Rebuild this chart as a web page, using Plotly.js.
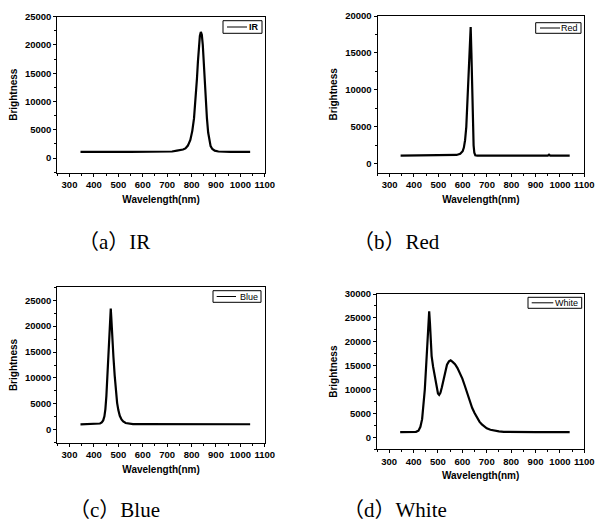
<!DOCTYPE html>
<html>
<head>
<meta charset="utf-8">
<script src="https://cdn.plot.ly/plotly-3.0.1.min.js"></script>
<style>html,body{margin:0;padding:0;background:#fff;}#chart{width:595px;height:528px;}</style>
</head>
<body>
<div id="chart"></div>
<script>
// ---- Data ----
const wlIR = [345,370,400,430,460,490,520,550,580,610,640,670,700,720,740,755,765,775,785,795,803,810,816,822,826,830,834,838,842,846,850,854,858,863,868,873,878,885,895,910,930,960,990,1020,1040];
const brIR = [1080,1100,1070,1090,1080,1070,1090,1080,1070,1090,1080,1090,1100,1150,1300,1400,1500,1700,2200,3200,4800,7000,10000,14000,17000,19800,21600,22300,21800,20000,16800,13000,10000,7000,4500,3000,2100,1600,1300,1150,1100,1090,1080,1090,1080];

const wlRed = [345,370,400,430,460,490,520,550,575,590,600,605,610,615,620,623,627,630,633,636,639,642,645,648,652,660,690,720,760,800,850,900,950,955,960,1000,1040];
const brRed = [1100,1110,1090,1100,1100,1090,1100,1110,1200,1350,1700,2200,3200,5000,8500,10200,13000,16000,18500,15000,9500,5000,2500,1500,1150,1100,1090,1100,1110,1090,1100,1110,1120,1250,1120,1100,1110];

const wlBlue = [345,370,400,415,425,432,438,443,447,451,455,459,463,466,467,469,471,473,476,480,485,490,495,500,506,513,520,530,545,560,600,650,700,750,800,850,900,950,1000,1040];
const brBlue = [1050,1060,1060,1100,1200,1400,1800,2600,4000,6500,10500,15500,19500,21200,20900,23400,21800,20500,18000,14000,10500,7500,5200,3800,2700,2000,1600,1300,1150,1100,1080,1070,1070,1060,1070,1060,1070,1060,1070,1060];

const wlWhite = [345,370,395,410,420,428,435,441,446,451,456,460,464,467,470,474,480,487,494,500,505,510,516,523,530,537,545,552,560,570,580,590,600,610,620,630,640,650,660,670,680,690,700,715,730,750,770,800,850,900,950,1000,1040];
const brWhite = [1080,1090,1100,1150,1400,2200,3800,6500,10000,14500,20000,24000,26400,24000,19000,17000,14800,12500,10500,9200,8900,9300,10500,12300,14000,15200,15900,16100,15800,15300,14500,13500,12300,10800,9200,7600,6200,5100,4100,3300,2700,2200,1900,1600,1400,1250,1150,1100,1090,1080,1090,1080,1080];

const seriesNames = ['IR','Red','Blue','White'];
const captions = ['（a）IR','（b）Red','（c）Blue','（d）White'];
const xTitle = 'Wavelength(nm)';
const yTitle = 'Brightness';

// ---- Layout helpers (pixel geometry) ----
const W = 595, H = 528;
const px = v => v / W;
const py = v => 1 - v / H;

const panels = [
  {x0:57.3, x1:264.8, y0:16.7, y1:172.7, yr:[-2600,25000.5]},
  {x0:377.5, x1:584.3, y0:16.0, y1:172.7, yr:[-1200,20000.5]},
  {x0:57.3, x1:264.8, y0:287.3, y1:442.7, yr:[-2500,27500]},
  {x0:377.0, x1:584.3, y0:294.0, y1:449.3, yr:[-2500,30000.5]}
];

const dataX = [wlIR, wlRed, wlBlue, wlWhite];
const dataY = [brIR, brRed, brBlue, brWhite];

const tickFont = {family:'Liberation Sans, Arial, sans-serif', size:9.5, color:'#000', weight:'bold'};
const titleFont = {family:'Liberation Sans, Arial, sans-serif', size:10, color:'#000', weight:'bold'};

const traces = [];
const layout = {
  width: W, height: H,
  margin: {l:0, r:0, t:0, b:0},
  paper_bgcolor: '#fff', plot_bgcolor: '#fff',
  showlegend: false,
  annotations: [], shapes: []
};

panels.forEach((p, i) => {
  const sfx = i === 0 ? '' : String(i + 1);
  traces.push({
    type: 'scatter', mode: 'lines', name: seriesNames[i],
    x: dataX[i], y: dataY[i],
    xaxis: 'x' + sfx, yaxis: 'y' + sfx,
    line: {color: '#000', width: 2.2}
  });
  const common = {
    ticks: 'outside', ticklen: 3, tickwidth: 1, tickcolor: '#000',
    showline: true, linecolor: '#000', linewidth: 1, mirror: true,
    showgrid: false, zeroline: false, tickfont: tickFont, fixedrange: true,
    tickformat: 'd'
  };
  layout['xaxis' + sfx] = Object.assign({}, common, {
    domain: [px(p.x0), px(p.x1)], anchor: 'y' + sfx,
    range: [250, 1100], tick0: 0, dtick: 100,
    minor: {dtick: 50, ticks: 'outside', ticklen: 2, tickcolor: '#000', showgrid: false},
    title: {text: xTitle, font: titleFont, standoff: 6}
  });
  layout['yaxis' + sfx] = Object.assign({}, common, {
    domain: [py(p.y1), py(p.y0)], anchor: 'x' + sfx,
    range: p.yr, tick0: 0, dtick: 5000,
    minor: {tick0: 0, dtick: 2500, ticks: 'outside', ticklen: 2, tickcolor: '#000', showgrid: false},
    title: {text: yTitle, font: titleFont, standoff: 5}
  });
});

// legends (boxes with sample line)
const legBoxes = [
  {l:223, r:262, t:20.7, b:33.3, l0:227, l1:247, bold:true},
  {l:535.7, r:581, t:22.7, b:33.3, l0:540, l1:560, bold:false},
  {l:213, r:261, t:290.7, b:302.3, l0:216.7, l1:236, bold:false},
  {l:528, r:581.7, t:297.3, b:308.3, l0:531.7, l1:553.3, bold:false}
];
legBoxes.forEach((b, i) => {
  layout.shapes.push({type:'rect', xref:'paper', yref:'paper',
    x0:px(b.l), x1:px(b.r), y0:py(b.b), y1:py(b.t),
    line:{color:'#000', width:1}, fillcolor:'#fff', layer:'above'});
  const cy = (b.t + b.b) / 2;
  layout.shapes.push({type:'line', xref:'paper', yref:'paper',
    x0:px(b.l0), x1:px(b.l1), y0:py(cy), y1:py(cy),
    line:{color:'#000', width:1}, layer:'above'});
  layout.annotations.push({xref:'paper', yref:'paper', x:px(b.r - 1.5), y:py(cy),
    xanchor:'right', yanchor:'middle', showarrow:false,
    text: seriesNames[i],
    font:{family:'Liberation Sans, Arial, sans-serif', size:9, color:'#000', weight: b.bold ? 'bold' : 'normal'}});
});

// captions
const capPos = [{x:76.5, y:241.7}, {x:350.5, y:241.7}, {x:66.5, y:510}, {x:340.5, y:510}];
capPos.forEach((c, i) => {
  layout.annotations.push({xref:'paper', yref:'paper', x:px(c.x), y:py(c.y),
    xanchor:'left', yanchor:'middle', showarrow:false, text: captions[i],
    font:{family:'Liberation Serif, Noto Sans CJK SC, serif', size:21, color:'#000'}});
});

Plotly.newPlot('chart', traces, layout, {staticPlot:true, displayModeBar:false});
</script>
</body>
</html>
